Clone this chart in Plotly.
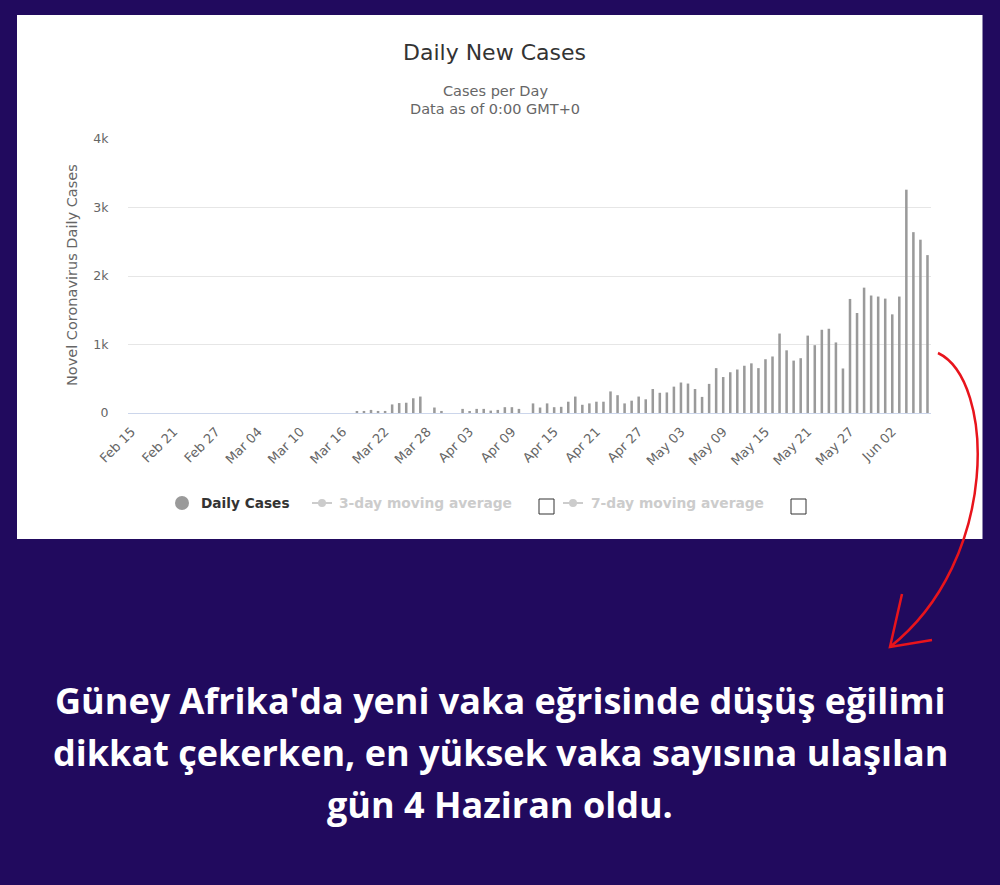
import pandas as pd
import plotly.graph_objects as go

# ---------------- data ----------------
START_DATE = "2020-02-15"
END_DATE = "2020-06-07"

# daily new cases, Feb 15 .. Jun 7 (114 days)
ZERO_DAYS = [0] * 32  # Feb 15 .. Mar 17
MARCH_VALUES = [25, 30, 45, 30, 30, 125, 145, 150, 215, 240, 0, 80, 30, 0]  # Mar 18 .. Mar 31
APRIL_VALUES = [0, 60, 25, 60, 60, 35, 45, 85, 85, 60, 0, 140, 80, 140, 85,
                90, 165, 240, 120, 140, 165, 165, 315, 260, 140, 180, 240, 200, 350, 295]  # Apr 1 .. Apr 30
MAY_VALUES = [300, 385, 445, 430, 350, 235, 425, 655, 525, 595, 635, 690, 725, 655, 785,
              825, 1160, 915, 765, 800, 1130, 990, 1215, 1230, 1030, 650, 1665, 1460, 1830, 1715, 1700]  # May 1 .. May 31
JUNE_VALUES = [1670, 1440, 1700, 3260, 2640, 2530, 2305]  # Jun 1 .. Jun 7

TICK_LABELS = ["Feb 15", "Feb 21", "Feb 27", "Mar 04", "Mar 10", "Mar 16", "Mar 22",
               "Mar 28", "Apr 03", "Apr 09", "Apr 15", "Apr 21", "Apr 27", "May 03",
               "May 09", "May 15", "May 21", "May 27", "Jun 02"]
Y_TICKS = [0, 1000, 2000, 3000, 4000]
Y_TICK_LABELS = ["0", "1k", "2k", "3k", "4k"]

TITLE = "Daily New Cases"
SUBTITLE_1 = "Cases per Day"
SUBTITLE_2 = "Data as of 0:00 GMT+0"
Y_TITLE = "Novel Coronavirus Daily Cases"
LEGEND_LABELS = ["Daily Cases", "3-day moving average", "7-day moving average"]
CAPTION = ["Güney Afrika'da yeni vaka eğrisinde düşüş eğilimi",
           "dikkat çekerken, en yüksek vaka sayısına ulaşılan",
           "gün 4 Haziran oldu."]

dates = pd.date_range(START_DATE, END_DATE, freq="D")
values = ZERO_DAYS + MARCH_VALUES + APRIL_VALUES + MAY_VALUES + JUNE_VALUES
tick_vals = [pd.to_datetime(t + " 2020", format="%b %d %Y") for t in TICK_LABELS]

# ---------------- layout helpers ----------------
W, H = 1000, 885
ML, MR, MT, MB = 128, 69, 139, 472
PW = W - ML - MR
PH = H - MT - MB


def px(x):
    return (x - ML) / PW


def py(y):
    return (H - MB - y) / PH


BG = "#210a5e"
FONT = "DejaVu Sans"

fig = go.Figure()
fig.add_trace(go.Bar(x=dates, y=values, marker=dict(color="#9a9a9a", line=dict(width=0)),
                     showlegend=False, name="Daily Cases"))

annotations = []


def note(text, x, y, size, color, xanchor="center", yanchor="middle", family=FONT, angle=0, bold=False):
    annotations.append(dict(text=text, x=px(x), y=py(y), xref="paper", yref="paper",
                            showarrow=False, xanchor=xanchor, yanchor=yanchor, textangle=angle,
                            font=dict(size=size, color=color, family=family,
                                      weight="bold" if bold else "normal")))


note(TITLE, 494, 52, 22, "#333333")
note(SUBTITLE_1, 495, 91, 14.5, "#666666")
note(SUBTITLE_2, 495, 109, 14.5, "#666666")
note(Y_TITLE, 72, 275, 14.5, "#666666", angle=-90)

# legend
note(LEGEND_LABELS[0], 199, 503, 13.7, "#333333", xanchor="left", bold=True)
note(LEGEND_LABELS[1], 337, 503, 13.8, "#cccccc", xanchor="left", bold=True)
note(LEGEND_LABELS[2], 589, 503, 13.8, "#cccccc", xanchor="left", bold=True)

# caption
for i, line in enumerate(CAPTION):
    note(line, 500, 700 + 52 * i, 36, "#ffffff", family="Open Sans", bold=True)

shapes = []
# white panel
shapes.append(dict(type="rect", xref="paper", yref="paper", x0=px(17), x1=px(982.5),
                   y0=py(539), y1=py(15), fillcolor="white", line=dict(width=0), layer="below"))
# legend symbols
shapes.append(dict(type="circle", xref="paper", yref="paper", x0=px(175), x1=px(189),
                   y0=py(510), y1=py(496), fillcolor="#9a9a9a", line=dict(width=0)))
for cx in (322, 573):
    shapes.append(dict(type="line", xref="paper", yref="paper", x0=px(cx - 10), x1=px(cx + 10),
                       y0=py(503), y1=py(503), line=dict(color="#cccccc", width=2)))
    shapes.append(dict(type="circle", xref="paper", yref="paper", x0=px(cx - 4), x1=px(cx + 4),
                       y0=py(507), y1=py(499), fillcolor="#cccccc", line=dict(width=0)))
for cx in (546.5, 798.5):
    shapes.append(dict(type="rect", xref="paper", yref="paper", x0=px(cx - 7.5), x1=px(cx + 7.5),
                       y0=py(514), y1=py(499), fillcolor="white", line=dict(color="#333333", width=1)))


# red hand-drawn arrow
def pt(x, y):
    return f"{px(x):.5f},{py(y):.5f}"


arrow_path = ("M" + pt(938, 353) + " C" + pt(995, 380) + " " + pt(1000, 560) + " " + pt(890, 647))
shapes.append(dict(type="path", xref="paper", yref="paper", path=arrow_path,
                   line=dict(color="#e8141c", width=2.5)))
shapes.append(dict(type="path", xref="paper", yref="paper",
                   path="M" + pt(902, 594) + " L" + pt(890, 647) + " L" + pt(932, 640),
                   line=dict(color="#e8141c", width=2.5)))

fig.update_layout(
    width=W, height=H,
    margin=dict(l=ML, r=MR, t=MT, b=MB, autoexpand=False),
    paper_bgcolor=BG, plot_bgcolor="white",
    bargap=0.64,
    showlegend=False,
    font=dict(family=FONT, color="#666666"),
    annotations=annotations,
    shapes=shapes,
    xaxis=dict(
        type="date",
        range=[pd.Timestamp(START_DATE) - pd.Timedelta(hours=12),
               pd.Timestamp(END_DATE) + pd.Timedelta(hours=12)],
        tickvals=tick_vals, ticktext=TICK_LABELS, tickangle=-45,
        tickfont=dict(size=13, color="#666666", family=FONT),
        ticks="outside", ticklen=5, tickcolor="rgba(0,0,0,0)",
        showgrid=False, showline=True, linecolor="#ccd6eb", linewidth=1,
        zeroline=False, fixedrange=True,
    ),
    yaxis=dict(
        range=[0, 4000], tickvals=Y_TICKS, ticktext=Y_TICK_LABELS,
        tickfont=dict(size=12.5, color="#666666", family=FONT),
        ticks="outside", ticklen=16, tickcolor="rgba(0,0,0,0)",
        showgrid=True, gridcolor="#e6e6e6", gridwidth=1,
        zeroline=False, showline=False, fixedrange=True,
    ),
)

fig.write_html(
    "out.html",
    config={"displayModeBar": False},
    post_script="document.body.style.margin='0';document.body.style.background='" + BG + "';",
)
